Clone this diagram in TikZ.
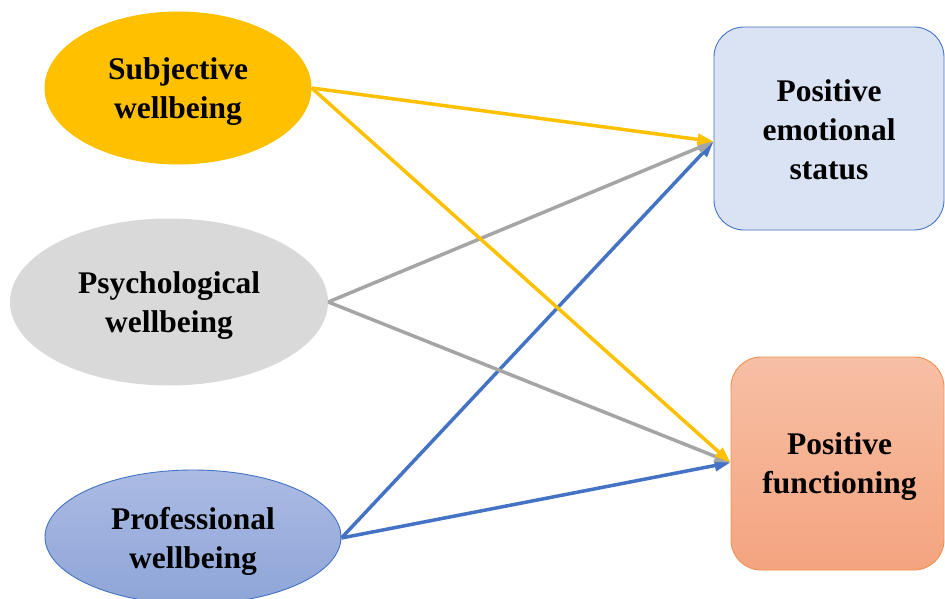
\documentclass[tikz,border=0pt]{standalone}
\usepackage{fontspec}
\setmainfont{Liberation Serif}
\usetikzlibrary{shapes.geometric,arrows.meta,calc}

\definecolor{subjfill}{HTML}{FFC000}
\definecolor{psyfill}{HTML}{D9D9D9}
\definecolor{proftop}{HTML}{ABBBE3}
\definecolor{profbot}{HTML}{8EA5D8}
\definecolor{accentblue}{HTML}{4472C4}
\definecolor{emofill}{HTML}{DAE3F3}
\definecolor{funtop}{HTML}{F7BFA5}
\definecolor{funbot}{HTML}{F4A47F}
\definecolor{funedge}{HTML}{F0904F}
\definecolor{linkgold}{HTML}{FFC000}
\definecolor{linkgray}{HTML}{A5A5A5}

\tikzset{
  label text/.style={font=\bfseries\fontsize{31.5}{39}\selectfont, align=center, text=black},
  caption/.style={label={[label text, yshift=-4pt]center:#1}},
  source/.style={ellipse, inner sep=0pt},
  outcome/.style={rectangle, rounded corners=30pt, inner sep=0pt, line width=0.9pt},
  link/.style={line width=3.5pt, -{Triangle[length=16pt,width=11pt]}},
}

\begin{document}
\begin{tikzpicture}[x=1pt, y=-1pt]
  \useasboundingbox (0,0) rectangle (945,599);

  % predictor ellipses
  \node[source, fill=subjfill, minimum width=267pt, minimum height=153pt,
        caption={Subjective\\wellbeing}]
    (subj) at (178,88) {};
  \node[source, fill=psyfill, minimum width=318pt, minimum height=167pt,
        caption={Psychological\\wellbeing}]
    (psy) at (169,302) {};
  \node[source, draw=accentblue, line width=0.9pt, top color=proftop, bottom color=profbot,
        minimum width=296pt, minimum height=134pt,
        caption={Professional\\wellbeing}]
    (prof) at (193,537) {};

  % outcome boxes
  \node[outcome, draw=accentblue, fill=emofill, minimum width=230pt, minimum height=203pt,
        label={[label text, yshift=-1pt]center:Positive\\emotional\\status}]
    (emo) at (829,128.5) {};
  \node[outcome, draw=funedge, top color=funtop, bottom color=funbot,
        minimum width=213pt, minimum height=213pt,
        label={[label text, yshift=-3pt, xshift=2pt]center:Positive\\functioning}]
    (fun) at (837.5,463.5) {};

  \coordinate (emoIn) at ($(emo.west)+(0,13)$);
  \coordinate (funIn) at ($(fun.west)+(0,-1)$);
  \coordinate (profOut) at ($(prof.east)+(0,1)$);

  % paths between constructs
  \draw[link, accentblue] (profOut) -- (emoIn);
  \draw[link, accentblue] (profOut) -- (funIn);
  \draw[link, linkgray] (psy.east) -- (emoIn);
  \draw[link, linkgray] (psy.east) -- (funIn);
  \draw[link, linkgold] (subj.east) -- (emoIn);
  \draw[link, linkgold] (subj.east) -- (funIn);
\end{tikzpicture}
\end{document}
